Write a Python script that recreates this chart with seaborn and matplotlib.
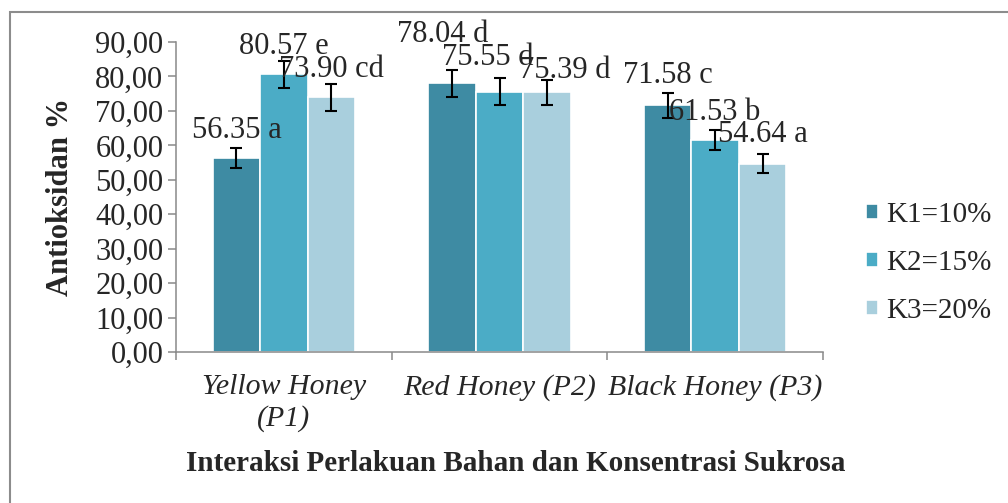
import pandas as pd
import matplotlib.pyplot as plt
import seaborn as sns
from matplotlib.patches import Rectangle
from matplotlib.ticker import FuncFormatter, FixedLocator

# data
treatments = ["Yellow Honey\n(P1)", "Red Honey (P2)", "Black Honey (P3)"]
concentrations = ["K1=10%", "K2=15%", "K3=20%"]
k1_values = [56.35, 78.04, 71.58]
k2_values = [80.57, 75.55, 61.53]
k3_values = [73.90, 75.39, 54.64]
k1_err = [2.9, 3.9, 3.6]
k2_err = [3.9, 3.9, 3.0]
k3_err = [3.8, 3.6, 2.8]
k1_letters = ["a", "d", "c"]
k2_letters = ["e", "d", "b"]
k3_letters = ["cd", "d", "a"]

# label nudges in pixels (dx, dy above bar top), as placed in the original chart
label_nudge = {
    "K1=10%": [(0, 20), (-9, 41), (0, 22)],
    "K2=15%": [(0, 20), (-12, 27), (0, 20)],
    "K3=20%": [(0, 20), (18, 14), (0, 22)],
}

df = pd.DataFrame({
    "treatment": treatments * 3,
    "conc": [c for c in concentrations for _ in treatments],
    "value": k1_values + k2_values + k3_values,
    "err": k1_err + k2_err + k3_err,
    "letter": k1_letters + k2_letters + k3_letters,
})

sns.set_theme(style="white")
plt.rcParams["font.family"] = ["Liberation Serif", "DejaVu Serif"]

palette = ["#3E8BA3", "#4BACC6", "#A9CFDD"]

fig = plt.figure(figsize=(10.08, 5.03), dpi=100)
ax = fig.add_axes([176 / 1008, 1 - 352 / 503, (823 - 176) / 1008, (352 - 42) / 503])

sns.barplot(
    data=df, x="treatment", y="value", hue="conc",
    order=treatments, hue_order=concentrations, palette=palette,
    width=0.66, errorbar=None, edgecolor="white", linewidth=1.2,
    saturation=1, ax=ax,
)

# error bars and value labels
for conc, container in zip(concentrations, ax.containers):
    sub = df[df.conc == conc].set_index("treatment").loc[treatments]
    for bar, (_, row), (dx, dy) in zip(container, sub.iterrows(), label_nudge[conc]):
        xc = bar.get_x() + bar.get_width() / 2
        ax.errorbar(xc, row.value, yerr=row.err, color="black", lw=1.5,
                    capsize=4.5, capthick=1.5)
        ax.annotate(f"{row.value:.2f} {row.letter}", (xc, row.value),
                    xytext=(dx * 0.72, dy * 0.72), textcoords="offset points",
                    ha="center", va="baseline", fontsize=22)

ax.set_ylim(0, 90)
ax.set_xlim(-0.5, 2.5)
ax.set_yticks(range(0, 91, 10))
ax.yaxis.set_major_formatter(FuncFormatter(lambda v, p: f"{v:.2f}".replace(".", ",")))
ax.tick_params(axis="y", which="major", left=True, length=6, width=1.1,
               color="#898989", labelsize=22, pad=3)
ax.tick_params(axis="x", which="major", length=0, labelsize=21.5, pad=16)
ax.xaxis.set_minor_locator(FixedLocator([-0.5, 0.5, 1.5, 2.5]))
ax.tick_params(axis="x", which="minor", bottom=True, length=6, width=1.1,
               color="#898989")
for lab in ax.get_xticklabels():
    lab.set_fontstyle("italic")
    lab.set_linespacing(1.25)

for side in ["top", "right"]:
    ax.spines[side].set_visible(False)
for side in ["left", "bottom"]:
    ax.spines[side].set_color("#898989")
    ax.spines[side].set_linewidth(1.1)

ax.set_xlabel("")
ax.set_ylabel("")
fig.text(60 / 1008, 1 - 197 / 503, "Antioksidan %", rotation=90, ha="center",
         va="center", fontsize=22, fontweight="bold")
fig.text(516 / 1008, 1 - 471 / 503, "Interaksi Perlakuan Bahan dan Konsentrasi Sukrosa",
         ha="center", va="baseline", fontsize=21, fontweight="bold")

handles, labels = ax.get_legend_handles_labels()
ax.legend(handles, labels, loc="center left", frameon=False,
          bbox_to_anchor=(866 / 1008, 1 - 263 / 503), bbox_transform=fig.transFigure,
          fontsize=21, handlelength=0.4, handleheight=0.4, handletextpad=0.3,
          labelspacing=0.75, borderpad=0, borderaxespad=0)

# outer chart border (only top and left edges fall inside the picture)
fig.patches.append(Rectangle((10 / 1008, -0.1), 1.2, 1.1 - 12 / 503, transform=fig.transFigure,
                             fill=False, edgecolor="#8c8c8c", linewidth=1.5))

plt.savefig("out.png", dpi=100)
